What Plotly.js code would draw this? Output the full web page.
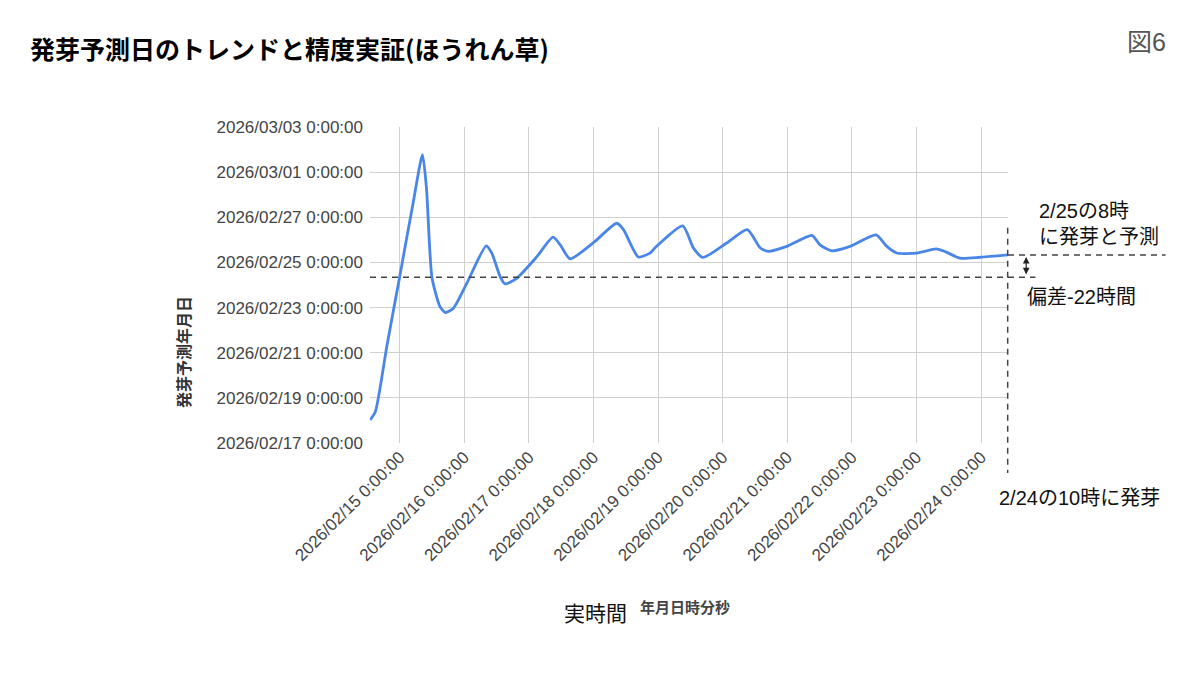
<!DOCTYPE html>
<html>
<head>
<meta charset="utf-8">
<script src="https://cdn.plot.ly/plotly-3.0.1.min.js"></script>
<style>
  html, body { margin: 0; padding: 0; background: #fff; }
  #chart { width: 1200px; height: 675px; }
</style>
</head>
<body>
<div id="chart"></div>
<script>
// actual time (x) vs predicted germination date (y)
var actualTime = [
  '2026-02-14 13:00', '2026-02-14 15:00', '2026-02-14 19:20', '2026-02-15 00:00',
  '2026-02-15 05:00', '2026-02-15 08:30', '2026-02-15 10:00', '2026-02-15 12:00',
  '2026-02-15 15:00', '2026-02-15 17:00', '2026-02-15 20:00', '2026-02-16 01:00',
  '2026-02-16 08:10', '2026-02-16 10:15', '2026-02-16 13:20', '2026-02-16 15:10',
  '2026-02-16 19:30', '2026-02-17 03:00', '2026-02-17 09:00', '2026-02-17 11:40',
  '2026-02-17 15:20', '2026-02-18 00:00', '2026-02-18 08:40', '2026-02-18 11:10',
  '2026-02-18 16:40', '2026-02-18 21:00', '2026-02-18 23:00', '2026-02-19 09:10',
  '2026-02-19 13:10', '2026-02-19 16:40', '2026-02-20 01:30', '2026-02-20 09:10',
  '2026-02-20 14:00', '2026-02-20 17:00', '2026-02-20 23:50', '2026-02-21 09:10',
  '2026-02-21 12:10', '2026-02-21 16:30', '2026-02-21 23:20', '2026-02-22 09:00',
  '2026-02-22 13:00', '2026-02-22 16:40', '2026-02-23 00:10', '2026-02-23 07:20',
  '2026-02-23 10:40', '2026-02-23 16:10', '2026-02-23 23:40', '2026-02-24 10:00'
];
var predictedDate = [
  '2026-02-18 00:30', '2026-02-18 09:20', '2026-02-21 08:20', '2026-02-24 08:20',
  '2026-02-27 15:00', '2026-03-01 18:30', '2026-02-28 06:00', '2026-02-24 08:20',
  '2026-02-23 01:00', '2026-02-22 18:40', '2026-02-22 23:20', '2026-02-24 02:00',
  '2026-02-25 17:40', '2026-02-25 09:50', '2026-02-24 09:00', '2026-02-24 01:10',
  '2026-02-24 07:10', '2026-02-25 06:10', '2026-02-26 02:50', '2026-02-25 18:40',
  '2026-02-25 03:50', '2026-02-25 21:00', '2026-02-26 17:40', '2026-02-26 10:50',
  '2026-02-25 05:50', '2026-02-25 09:50', '2026-02-25 15:50', '2026-02-26 14:50',
  '2026-02-25 15:10', '2026-02-25 05:20', '2026-02-25 20:40', '2026-02-26 10:50',
  '2026-02-25 15:20', '2026-02-25 11:50', '2026-02-25 17:00', '2026-02-26 04:50',
  '2026-02-25 18:40', '2026-02-25 12:20', '2026-02-25 17:00', '2026-02-26 05:20',
  '2026-02-25 17:00', '2026-02-25 10:00', '2026-02-25 10:00', '2026-02-25 14:20',
  '2026-02-25 11:30', '2026-02-25 04:30', '2026-02-25 05:30', '2026-02-25 08:00'
];

var predictedGermination = '2026-02-25 08:00';
var actualLineLevel = '2026-02-24 08:20';   // where the lower dashed line is drawn
var xRange = ['2026-02-14 13:00', '2026-02-24 10:00'];
var yRange = ['2026-02-17 00:00', '2026-03-03 00:00'];

var latin = 'Liberation Sans, Arial, Noto Sans CJK JP, sans-serif';
var cjk = 'Noto Sans CJK JP, Liberation Sans, sans-serif';
var dash = {color: '#444', width: 1.5, dash: '6px,5px'};

var trend = {
  x: actualTime,
  y: predictedDate,
  type: 'scatter',
  mode: 'lines',
  line: {color: '#4a86e8', width: 2.8, shape: 'spline', smoothing: 0.6},
  hoverinfo: 'x+y'
};

var layout = {
  width: 1200, height: 675, autosize: false,
  margin: {l: 370, r: 192, t: 127, b: 232},
  paper_bgcolor: '#fff', plot_bgcolor: '#fff',
  showlegend: false,
  title: {
    text: '発芽予測日のトレンドと精度実証(ほうれん草)',
    font: {family: cjk, size: 25, color: '#000', weight: 'bold'},
    x: 0.025, xanchor: 'left', xref: 'container',
    y: 0.926, yanchor: 'middle', yref: 'container'
  },
  xaxis: {
    type: 'date', range: xRange,
    tick0: '2026-02-15', dtick: 86400000,
    tickformat: '%Y/%m/%d %-H:%M:%S', tickangle: -45,
    tickfont: {family: latin, size: 17, color: '#444'},
    showgrid: true, gridcolor: '#d0d0d0', gridwidth: 1,
    zeroline: false, showline: false, ticks: ''
  },
  yaxis: {
    type: 'date', range: yRange,
    tick0: '2026-02-17', dtick: 2 * 86400000,
    tickformat: '%Y/%m/%d %-H:%M:%S',
    tickfont: {family: latin, size: 17, color: '#444'},
    ticklabelstandoff: 6,
    showgrid: true, gridcolor: '#d0d0d0', gridwidth: 1,
    zeroline: false, showline: false, ticks: ''
  },
  shapes: [
    // lower dashed line across the plot
    {type: 'line', xref: 'paper', yref: 'y', x0: 0, x1: 1.043,
     y0: actualLineLevel, y1: actualLineLevel, line: dash, layer: 'above'},
    // predicted germination level to the right
    {type: 'line', xref: 'paper', yref: 'y', x0: 1.0, x1: 1.247,
     y0: predictedGermination, y1: predictedGermination, line: dash, layer: 'above'},
    // actual germination time
    {type: 'line', xref: 'paper', yref: 'paper', x0: 0.9995, x1: 0.9995,
     y0: 0.681, y1: -0.095, line: dash, layer: 'above'}
  ],
  annotations: [
    {xref: 'paper', yref: 'y', x: 1.0285, y: predictedGermination,
     ax: 0, ay: 21, axref: 'pixel', ayref: 'pixel', text: '',
     showarrow: true, arrowside: 'end+start', arrowhead: 2, arrowsize: 1.1,
     arrowwidth: 1.2, arrowcolor: '#222', standoff: 2, startstandoff: 0},
    {xref: 'paper', yref: 'paper', x: 1.046, y: 0.694, xanchor: 'left', yanchor: 'middle',
     align: 'left', showarrow: false,
     text: '2/25の8時<br>に発芽と予測', font: {family: latin, size: 20, color: '#111'}},
    {xref: 'paper', yref: 'paper', x: 1.027, y: 0.4625, xanchor: 'left', yanchor: 'middle',
     showarrow: false, text: '偏差-22時間', font: {family: latin, size: 20, color: '#111'}},
    {xref: 'paper', yref: 'paper', x: 0.983, y: -0.174, xanchor: 'left', yanchor: 'middle',
     showarrow: false, text: '2/24の10時に発芽', font: {family: latin, size: 20, color: '#111'}},
    {xref: 'paper', yref: 'paper', x: 1.184, y: 1.27, xanchor: 'left', yanchor: 'middle',
     showarrow: false, text: '図6', font: {family: latin, size: 25, color: '#555'}},
    {xref: 'paper', yref: 'paper', x: -0.293, y: 0.288, xanchor: 'center', yanchor: 'middle',
     textangle: -90, showarrow: false, text: '発芽予測年月日',
     font: {family: cjk, size: 16, color: '#333', weight: 'bold'}},
    {xref: 'paper', yref: 'paper', x: 0.301, y: -0.535, xanchor: 'left', yanchor: 'middle',
     showarrow: false, text: '実時間', font: {family: cjk, size: 21, color: '#111'}},
    {xref: 'paper', yref: 'paper', x: 0.42, y: -0.516, xanchor: 'left', yanchor: 'middle',
     showarrow: false, text: '年月日時分秒',
     font: {family: cjk, size: 15, color: '#444', weight: 'bold'}}
  ]
};

Plotly.newPlot('chart', [trend], layout, {displayModeBar: false, staticPlot: true});
</script>
</body>
</html>
